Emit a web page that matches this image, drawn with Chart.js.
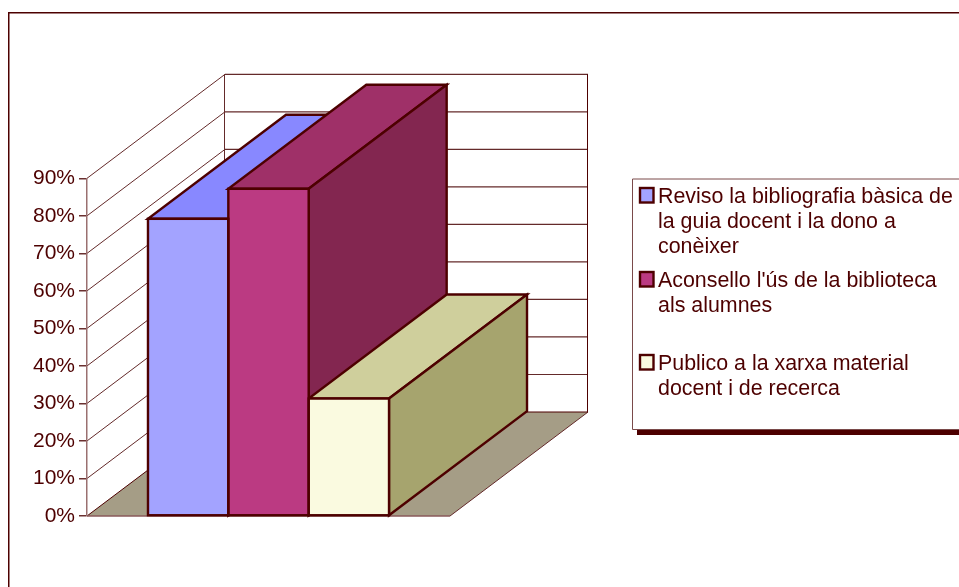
<!DOCTYPE html>
<html>
<head>
<meta charset="utf-8">
<style>
html,body{margin:0;padding:0;background:#fff;overflow:hidden}
canvas{display:block}
</style>
<script src="https://cdn.jsdelivr.net/npm/chart.js@4/dist/chart.umd.min.js"></script>
</head>
<body>
<canvas id="c" width="959" height="587"></canvas>
<script>
const categories = [''];
const seriesLines = [
  ['Reviso la bibliografia bàsica de', 'la guia docent i la dono a', 'conèixer'],
  ["Aconsello l'ús de la biblioteca", 'als alumnes'],
  ['Publico a la xarxa material', 'docent i de recerca']
];
const reviso = [79.2];
const aconsello = [87.2];
const publico = [31.3];
const seriesValues = [reviso, aconsello, publico];
const frontColors = ['#a3a3ff', '#bb3a82', '#fafae0'];
const topColors = ['#8888ff', '#9f3068', '#cfcf9c'];
const sideColors = ['#6d6dcc', '#832650', '#a6a46e'];
const legendTops = [188, 272, 355];

const INK = '#4d0000';
const GRID = '#642a2a';
const FLOOR = '#a59d86';
const FONT = '"Liberation Sans", Arial, sans-serif';
const DX = 138, DY = -104;

function poly(ctx, pts, fill, stroke, lw) {
  ctx.beginPath();
  pts.forEach((p, i) => i ? ctx.lineTo(p[0], p[1]) : ctx.moveTo(p[0], p[1]));
  ctx.closePath();
  if (fill) { ctx.fillStyle = fill; ctx.fill(); }
  if (stroke) { ctx.strokeStyle = stroke; ctx.lineWidth = lw; ctx.lineJoin = 'miter'; ctx.stroke(); }
}
function line(ctx, x1, y1, x2, y2, color, lw) {
  ctx.beginPath(); ctx.moveTo(x1, y1); ctx.lineTo(x2, y2);
  ctx.strokeStyle = color; ctx.lineWidth = lw; ctx.stroke();
}

const scene = {
  id: 'scene3d',
  beforeDraw(chart) {
    const { ctx, chartArea: a, scales: { y } } = chart;
    ctx.save();
    ctx.fillStyle = '#fff';
    ctx.fillRect(0, 0, chart.width, chart.height);
    // outer frame, open at the right and bottom of the picture
    ctx.strokeStyle = INK; ctx.lineWidth = 1.5;
    ctx.beginPath(); ctx.moveTo(8.75, chart.height); ctx.lineTo(8.75, 12.75); ctx.lineTo(chart.width, 12.75); ctx.stroke();
    // floor
    poly(ctx, [[a.left, a.bottom], [a.right, a.bottom], [a.right + DX, a.bottom + DY], [a.left + DX, a.bottom + DY]], FLOOR, null, 0);
    line(ctx, a.right, a.bottom, a.right + DX, a.bottom + DY, GRID, 1);
    line(ctx, a.left, a.bottom, a.left + DX, a.bottom + DY, INK, 1);
    line(ctx, a.left, a.bottom, a.right, a.bottom, '#8a5a5a', 1.5);
    // walls with gridlines
    y.ticks.forEach(t => {
      const py = y.getPixelForValue(t.value);
      if (t.value > 0) {
        line(ctx, a.left, py, a.left + DX, py + DY, GRID, 1);
        line(ctx, a.left + DX, py + DY, a.right + DX, py + DY, GRID, 1.2);
      }
    });
    line(ctx, a.left + DX, a.bottom + DY, a.right + DX, a.bottom + DY, INK, 1);
    line(ctx, a.left + DX - 0.5, a.top + DY, a.left + DX - 0.5, a.bottom + DY, GRID, 1);
    line(ctx, a.right + DX - 0.5, a.top + DY, a.right + DX - 0.5, a.bottom + DY, INK, 1);
    ctx.restore();
  },
  beforeDatasetsDraw(chart) {
    const ctx = chart.ctx;
    seriesValues.forEach((_, i) => {
      chart.getDatasetMeta(i).data.forEach(b => {
        const l = b.x - b.width / 2, r = b.x + b.width / 2;
        ctx.save();
        poly(ctx, [[l, b.y], [r, b.y], [r + DX, b.y + DY], [l + DX, b.y + DY]], topColors[i], INK, 2.4);
        poly(ctx, [[r, b.y], [r + DX, b.y + DY], [r + DX, b.base + DY], [r, b.base]], sideColors[i], INK, 2.4);
        ctx.restore();
      });
    });
  },
  afterDatasetsDraw(chart) {
    const ctx = chart.ctx;
    seriesValues.forEach((_, i) => {
      chart.getDatasetMeta(i).data.forEach(b => {
        ctx.save();
        ctx.strokeStyle = INK; ctx.lineWidth = 2.4;
        ctx.strokeRect(b.x - b.width / 2, b.y, b.width, b.base - b.y);
        ctx.restore();
      });
    });
  },
  afterDraw(chart) {
    const ctx = chart.ctx;
    ctx.save();
    // legend box with its shadow
    ctx.fillStyle = INK;
    ctx.fillRect(637, 429.5, chart.width - 637, 5.5);
    ctx.strokeStyle = '#7a4a4a'; ctx.lineWidth = 1;
    ctx.beginPath(); ctx.moveTo(chart.width, 179); ctx.lineTo(632.5, 179); ctx.lineTo(632.5, 429.5); ctx.lineTo(chart.width, 429.5); ctx.stroke();
    ctx.font = '21.4px ' + FONT;
    ctx.textBaseline = 'alphabetic';
    ctx.textAlign = 'left';
    seriesLines.forEach((lines, i) => {
      const top = legendTops[i];
      ctx.fillStyle = frontColors[i];
      ctx.fillRect(640, top, 13.5, 14.5);
      ctx.strokeStyle = INK; ctx.lineWidth = 2.4;
      ctx.strokeRect(640, top, 13.5, 14.5);
      ctx.fillStyle = INK;
      lines.forEach((txt, k) => ctx.fillText(txt, 658, top + 15 + k * 25));
    });
    ctx.restore();
  }
};

new Chart(document.getElementById('c'), {
  type: 'bar',
  data: {
    labels: categories,
    datasets: seriesValues.map((v, i) => ({
      label: seriesLines[i].join(' '),
      data: v,
      backgroundColor: frontColors[i],
      borderWidth: 0,
      categoryPercentage: 0.664,
      barPercentage: 1
    }))
  },
  options: {
    responsive: false,
    animation: false,
    layout: { padding: { left: 0, top: 178.3, right: 509, bottom: 71 } },
    plugins: { legend: { display: false }, title: { display: false }, tooltip: { enabled: false } },
    scales: {
      x: { display: false },
      y: {
        min: 0, max: 90,
        afterFit(s) { s.width = 87; s.paddingTop = 0; s.paddingBottom = 0; },
        ticks: {
          stepSize: 10,
          padding: 4,
          color: INK,
          font: { family: FONT, size: 21 },
          callback: v => v + '%'
        },
        grid: { drawOnChartArea: false, drawTicks: true, tickLength: 8, color: '#6a3030', lineWidth: 1.5 },
        border: { color: '#9a7070', width: 1.5 }
      }
    }
  },
  plugins: [scene]
});
</script>
</body>
</html>
